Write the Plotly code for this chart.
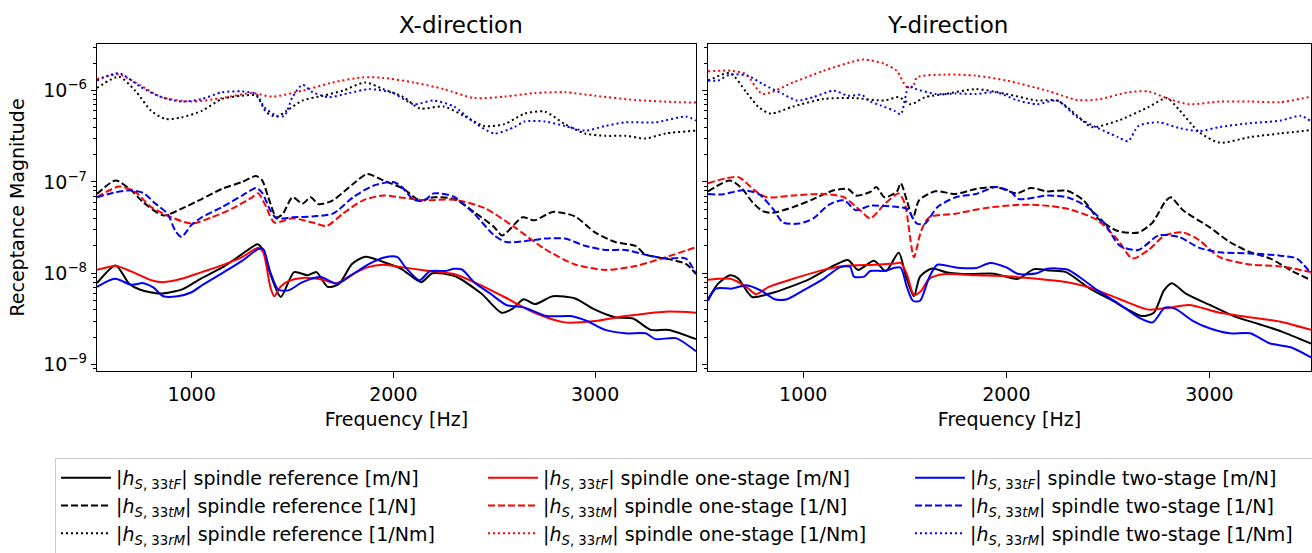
import plotly.graph_objects as go
from plotly.subplots import make_subplots

# ---------------- DATA ----------------
# X-direction
XF_REF_TF = [531, 624, 690, 746, 845, 956, 1044, 1155, 1243, 1327, 1354, 1387, 1442, 1508, 1575, 1619, 1674, 1729, 1796, 1862, 1950, 2039, 2138, 2193, 2304, 2436, 2536, 2591, 2646, 2702, 2790, 2901, 2989, 3099, 3188, 3276, 3365, 3500]
XV_REF_TF = [7.8e-9, 1.22e-8, 7.7e-9, 6.6e-9, 6.0e-9, 6.7e-9, 8.7e-9, 1.17e-8, 1.58e-8, 2.08e-8, 1.8e-8, 1.03e-8, 5.5e-9, 1.03e-8, 9.5e-9, 1.03e-8, 7.1e-9, 7.6e-9, 1.27e-8, 1.52e-8, 1.33e-8, 1.12e-8, 8.0e-9, 1.0e-8, 9.3e-9, 6.0e-9, 3.7e-9, 4.1e-9, 5.2e-9, 4.6e-9, 5.6e-9, 5.3e-9, 4.1e-9, 3.3e-9, 3.2e-9, 2.4e-9, 2.4e-9, 1.9e-9]

XF_ONE_TF = [531, 624, 700, 800, 860, 950, 1050, 1150, 1250, 1330, 1355, 1390, 1410, 1440, 1480, 1550, 1650, 1720, 1800, 1870, 1950, 2050, 2150, 2300, 2400, 2550, 2700, 2850, 3000, 3150, 3350, 3500]
XV_ONE_TF = [1.09e-8, 1.2e-8, 1.05e-8, 8.4e-9, 8.0e-9, 8.7e-9, 1.03e-8, 1.22e-8, 1.5e-8, 1.9e-8, 1.7e-8, 7.1e-9, 5.6e-9, 7.1e-9, 8.2e-9, 8.9e-9, 8.5e-9, 7.8e-9, 9.8e-9, 1.16e-8, 1.24e-8, 1.16e-8, 1.08e-8, 9.8e-9, 8.0e-9, 5.5e-9, 3.7e-9, 2.9e-9, 3.0e-9, 3.4e-9, 3.8e-9, 3.7e-9]

XF_TWO_TF = [531, 620, 700, 760, 810, 860, 930, 1000, 1060, 1150, 1250, 1330, 1355, 1390, 1430, 1480, 1550, 1640, 1720, 1800, 1880, 1960, 2020, 2060, 2130, 2180, 2260, 2300, 2340, 2400, 2480, 2560, 2650, 2760, 2880, 2960, 3050, 3150, 3250, 3300, 3400, 3500]
XV_TWO_TF = [7.1e-9, 8.7e-9, 7.5e-9, 7.8e-9, 7.0e-9, 5.6e-9, 5.6e-9, 6.2e-9, 7.6e-9, 1.0e-8, 1.37e-8, 1.84e-8, 1.84e-8, 1.03e-8, 6.6e-9, 6.5e-9, 8.0e-9, 9.1e-9, 7.7e-9, 9.8e-9, 1.27e-8, 1.5e-8, 1.5e-8, 1.16e-8, 8.4e-9, 1.05e-8, 1.06e-8, 1.12e-8, 1.1e-8, 8.0e-9, 6.0e-9, 4.5e-9, 4.2e-9, 3.4e-9, 3.4e-9, 3.0e-9, 2.4e-9, 2.2e-9, 2.2e-9, 1.9e-9, 1.95e-9, 1.4e-9]

XF_REF_TM = [531, 624, 700, 760, 860, 950, 1050, 1150, 1250, 1320, 1350, 1380, 1420, 1450, 1500, 1550, 1590, 1630, 1700, 1800, 1870, 1950, 2050, 2130, 2200, 2300, 2400, 2500, 2540, 2640, 2700, 2790, 2900, 3000, 3100, 3200, 3250, 3350, 3450, 3500]
XV_REF_TM = [7.4e-8, 1.04e-7, 8.1e-8, 6.0e-8, 4.3e-8, 5.1e-8, 6.5e-8, 8.4e-8, 1.0e-7, 1.16e-7, 1.04e-7, 6.8e-8, 4.1e-8, 4.4e-8, 6.8e-8, 5.8e-8, 6.8e-8, 5.7e-8, 6.3e-8, 9.5e-8, 1.22e-7, 1.04e-7, 8.4e-8, 6.3e-8, 6.8e-8, 6.5e-8, 4.7e-8, 3.2e-8, 2.6e-8, 4.1e-8, 3.8e-8, 4.7e-8, 4.2e-8, 2.8e-8, 2.2e-8, 2.0e-8, 1.6e-8, 1.45e-8, 1.27e-8, 9.8e-9]

XF_ONE_TM = [531, 640, 720, 800, 900, 1000, 1100, 1200, 1300, 1330, 1370, 1410, 1500, 1600, 1670, 1750, 1850, 1950, 2050, 2150, 2300, 2450, 2600, 2750, 2900, 3050, 3200, 3350, 3500]
XV_ONE_TM = [6.8e-8, 8.9e-8, 7.8e-8, 5.3e-8, 4.1e-8, 3.5e-8, 4.1e-8, 5.1e-8, 6.8e-8, 7.5e-8, 5.3e-8, 3.6e-8, 4.0e-8, 3.6e-8, 3.3e-8, 4.5e-8, 6.3e-8, 7.1e-8, 6.7e-8, 6.3e-8, 6.4e-8, 5.2e-8, 3.2e-8, 1.85e-8, 1.25e-8, 1.09e-8, 1.2e-8, 1.5e-8, 1.93e-8]

XF_TWO_TM = [531, 620, 700, 760, 820, 880, 920, 950, 1000, 1050, 1150, 1250, 1320, 1350, 1390, 1420, 1500, 1600, 1700, 1800, 1900, 2000, 2040, 2100, 2150, 2200, 2300, 2400, 2500, 2560, 2650, 2750, 2850, 2950, 3050, 3150, 3250, 3350, 3450, 3500]
XV_TWO_TM = [6.8e-8, 7.7e-8, 8.1e-8, 7.6e-8, 5.8e-8, 4.5e-8, 2.9e-8, 2.5e-8, 3.4e-8, 4.1e-8, 5.3e-8, 7.1e-8, 8.6e-8, 7.6e-8, 4.9e-8, 4.0e-8, 4.1e-8, 4.2e-8, 4.5e-8, 6.8e-8, 9.1e-8, 1.0e-7, 8.9e-8, 6.4e-8, 6.2e-8, 7.5e-8, 6.9e-8, 4.5e-8, 2.6e-8, 2.2e-8, 2.25e-8, 2.4e-8, 2.4e-8, 2.0e-8, 1.8e-8, 1.8e-8, 1.6e-8, 1.45e-8, 1.45e-8, 9.8e-9]

XF_REF_RM = [531, 640, 720, 800, 870, 950, 1050, 1150, 1250, 1320, 1370, 1420, 1470, 1550, 1650, 1750, 1860, 1950, 2050, 2130, 2250, 2350, 2450, 2550, 2650, 2750, 2850, 2950, 3050, 3150, 3250, 3350, 3500]
XV_REF_RM = [1.07e-6, 1.42e-6, 1.0e-6, 6.0e-7, 4.9e-7, 5.1e-7, 6.0e-7, 8.1e-7, 8.8e-7, 8.8e-7, 5.8e-7, 5.2e-7, 6.0e-7, 7.8e-7, 8.8e-7, 1.0e-6, 1.23e-6, 1.04e-6, 8.5e-7, 6.4e-7, 6.7e-7, 5.3e-7, 4.1e-7, 4.3e-7, 5.6e-7, 5.9e-7, 4.3e-7, 3.4e-7, 3.2e-7, 3.2e-7, 3.0e-7, 3.4e-7, 3.65e-7]

XF_ONE_RM = [531, 640, 750, 850, 1000, 1150, 1300, 1400, 1550, 1700, 1850, 1950, 2100, 2250, 2400, 2550, 2700, 2850, 3000, 3200, 3400, 3500]
XV_ONE_RM = [1.34e-6, 1.5e-6, 1.13e-6, 8.5e-7, 7.6e-7, 8.3e-7, 9.4e-7, 8.6e-7, 1.0e-6, 1.23e-6, 1.4e-6, 1.38e-6, 1.23e-6, 1.04e-6, 8.3e-7, 8.6e-7, 9.4e-7, 9.6e-7, 8.8e-7, 7.9e-7, 7.5e-7, 7.4e-7]

XF_TWO_RM = [531, 640, 750, 850, 950, 1050, 1150, 1250, 1320, 1360, 1420, 1460, 1500, 1550, 1600, 1680, 1780, 1880, 2000, 2100, 2200, 2300, 2400, 2500, 2600, 2650, 2750, 2850, 2950, 3050, 3150, 3300, 3450, 3500]
XV_TWO_RM = [1.29e-6, 1.55e-6, 1.09e-6, 8.5e-7, 7.6e-7, 8.1e-7, 9.6e-7, 9.8e-7, 9.2e-7, 6.6e-7, 5.3e-7, 5.3e-7, 8.5e-7, 1.16e-6, 9.6e-7, 8.5e-7, 9.4e-7, 1.04e-6, 9.4e-7, 7.1e-7, 7.8e-7, 6.7e-7, 4.5e-7, 3.4e-7, 4.0e-7, 4.6e-7, 4.6e-7, 4.1e-7, 3.65e-7, 4.1e-7, 4.5e-7, 4.5e-7, 5.2e-7, 4.7e-7]

# Y-direction
YF_REF_TF = [531, 581, 640, 679, 748, 837, 935, 1033, 1152, 1220, 1270, 1348, 1407, 1470, 1506, 1545, 1575, 1634, 1703, 1821, 1939, 2057, 2136, 2215, 2293, 2411, 2510, 2608, 2667, 2726, 2776, 2815, 2884, 3002, 3120, 3238, 3356, 3500]
YV_REF_TF = [5.2e-9, 7.7e-9, 9.5e-9, 8.8e-9, 5.5e-9, 6.0e-9, 7.1e-9, 8.7e-9, 1.22e-8, 1.4e-8, 1.09e-8, 1.37e-8, 1.06e-8, 1.68e-8, 9.2e-9, 5.6e-9, 9.2e-9, 1.13e-8, 1.03e-8, 9.8e-9, 9.9e-9, 8.7e-9, 1.11e-8, 1.07e-8, 1.03e-8, 6.8e-9, 5.2e-9, 3.9e-9, 3.4e-9, 3.7e-9, 6.5e-9, 7.8e-9, 6.0e-9, 4.5e-9, 3.4e-9, 2.8e-9, 2.3e-9, 1.7e-9]

YF_ONE_TF = [531, 640, 720, 768, 830, 950, 1100, 1200, 1350, 1450, 1480, 1510, 1545, 1580, 1620, 1700, 1850, 2000, 2150, 2300, 2400, 2550, 2700, 2800, 2900, 3050, 3200, 3350, 3500]
YV_ONE_TF = [8.5e-9, 8.7e-9, 7.1e-9, 5.9e-9, 7.1e-9, 8.7e-9, 1.09e-8, 1.2e-8, 1.24e-8, 1.28e-8, 1.3e-8, 9.8e-9, 5.8e-9, 6.4e-9, 8.7e-9, 9.8e-9, 9.5e-9, 9.3e-9, 8.7e-9, 8.0e-9, 7.1e-9, 5.3e-9, 4.0e-9, 4.2e-9, 4.5e-9, 3.7e-9, 3.3e-9, 2.95e-9, 2.4e-9]

YF_TWO_TF = [531, 570, 650, 720, 790, 860, 920, 1000, 1100, 1180, 1230, 1250, 1300, 1330, 1400, 1450, 1480, 1510, 1540, 1575, 1620, 1660, 1750, 1850, 1920, 2000, 2060, 2150, 2200, 2300, 2360, 2450, 2550, 2650, 2720, 2780, 2830, 2920, 3000, 3100, 3200, 3300, 3400, 3500]
YV_TWO_TF = [5.0e-9, 6.8e-9, 6.8e-9, 7.4e-9, 6.5e-9, 5.2e-9, 5.2e-9, 6.5e-9, 8.7e-9, 1.16e-8, 1.18e-8, 9.2e-9, 9.2e-9, 1.06e-8, 1.06e-8, 1.15e-8, 1.15e-8, 7.1e-9, 5.0e-9, 5.0e-9, 9.0e-9, 1.24e-8, 1.16e-8, 1.14e-8, 1.3e-8, 1.16e-8, 9.8e-9, 1.0e-8, 1.12e-8, 1.1e-8, 9.1e-9, 6.5e-9, 4.7e-9, 3.3e-9, 2.9e-9, 4.2e-9, 4.1e-9, 3.0e-9, 2.5e-9, 2.2e-9, 2.2e-9, 1.7e-9, 1.55e-9, 1.2e-9]

YF_REF_TM = [531, 640, 700, 750, 800, 850, 950, 1050, 1150, 1220, 1260, 1330, 1360, 1400, 1460, 1480, 1510, 1540, 1570, 1650, 1750, 1850, 1950, 2050, 2120, 2200, 2300, 2380, 2450, 2550, 2650, 2720, 2780, 2810, 2870, 3000, 3100, 3200, 3300, 3400, 3500]
YV_REF_TM = [7.9e-8, 1.04e-7, 8.4e-8, 6.0e-8, 4.8e-8, 4.6e-8, 5.3e-8, 6.5e-8, 8.1e-8, 8.4e-8, 7.1e-8, 7.8e-8, 8.8e-8, 6.8e-8, 7.8e-8, 9.7e-8, 6.3e-8, 4.0e-8, 6.3e-8, 7.9e-8, 7.4e-8, 8.4e-8, 8.8e-8, 7.5e-8, 8.6e-8, 7.9e-8, 8.0e-8, 6.3e-8, 4.0e-8, 2.9e-8, 2.8e-8, 3.6e-8, 6.0e-8, 6.8e-8, 4.9e-8, 3.2e-8, 2.2e-8, 1.7e-8, 1.45e-8, 1.08e-8, 8.4e-9]

YF_ONE_TM = [531, 680, 760, 820, 950, 1100, 1200, 1280, 1330, 1400, 1470, 1500, 1545, 1580, 1620, 1750, 1900, 2050, 2150, 2300, 2450, 2550, 2620, 2700, 2780, 2870, 2950, 3050, 3200, 3350, 3500]
YV_ONE_TM = [9.7e-8, 1.13e-7, 8.1e-8, 6.8e-8, 7.1e-8, 7.4e-8, 6.8e-8, 4.9e-8, 4.0e-8, 5.7e-8, 7.5e-8, 5.8e-8, 1.5e-8, 2.9e-8, 4.1e-8, 4.5e-8, 5.2e-8, 5.6e-8, 5.6e-8, 5.1e-8, 3.8e-8, 2.3e-8, 1.45e-8, 1.8e-8, 2.6e-8, 2.8e-8, 2.3e-8, 1.5e-8, 1.25e-8, 1.19e-8, 1.03e-8]

YF_TWO_TM = [531, 600, 700, 780, 850, 900, 980, 1050, 1130, 1200, 1260, 1330, 1470, 1510, 1560, 1600, 1660, 1750, 1850, 1950, 2020, 2060, 2200, 2300, 2400, 2480, 2560, 2650, 2750, 2850, 2950, 3050, 3200, 3350, 3430, 3500]
YV_TWO_TM = [7.4e-8, 7.3e-8, 8.1e-8, 7.4e-8, 5.1e-8, 3.6e-8, 3.5e-8, 4.0e-8, 5.7e-8, 6.3e-8, 4.9e-8, 5.5e-8, 5.3e-8, 5.1e-8, 3.5e-8, 3.5e-8, 5.3e-8, 6.8e-8, 7.4e-8, 8.8e-8, 7.9e-8, 6.5e-8, 7.1e-8, 6.8e-8, 5.3e-8, 3.6e-8, 2.0e-8, 1.8e-8, 2.6e-8, 2.5e-8, 1.9e-8, 1.7e-8, 1.65e-8, 1.56e-8, 1.45e-8, 1.0e-8]

YF_REF_RM = [531, 640, 720, 780, 840, 950, 1100, 1250, 1400, 1470, 1530, 1600, 1700, 1850, 2000, 2150, 2250, 2350, 2420, 2550, 2700, 2790, 2850, 2950, 3050, 3200, 3350, 3500]
YV_REF_RM = [1.29e-6, 1.55e-6, 9.6e-7, 6.6e-7, 5.6e-7, 6.7e-7, 8.1e-7, 8.3e-7, 7.8e-7, 8.5e-7, 7.1e-7, 8.5e-7, 9.2e-7, 1.04e-6, 9.2e-7, 7.8e-7, 7.8e-7, 5.3e-7, 4.0e-7, 4.7e-7, 6.6e-7, 8.3e-7, 6.2e-7, 3.5e-7, 2.7e-7, 3.1e-7, 3.4e-7, 3.7e-7]

YF_ONE_RM = [531, 650, 720, 800, 950, 1100, 1250, 1300, 1400, 1460, 1510, 1540, 1560, 1700, 1850, 2000, 2200, 2350, 2450, 2600, 2700, 2800, 2900, 3050, 3200, 3350, 3500]
YV_ONE_RM = [1.63e-6, 1.65e-6, 1.5e-6, 9.2e-7, 1.23e-6, 1.65e-6, 2.1e-6, 2.2e-6, 1.96e-6, 1.65e-6, 1.09e-6, 1.1e-6, 1.4e-6, 1.5e-6, 1.46e-6, 1.29e-6, 1.0e-6, 7.9e-7, 8.0e-7, 9.6e-7, 9.8e-7, 8.1e-7, 7.1e-7, 7.6e-7, 7.6e-7, 7.5e-7, 8.6e-7]

YF_TWO_RM = [531, 580, 640, 730, 800, 900, 970, 1050, 1150, 1220, 1290, 1320, 1380, 1450, 1480, 1520, 1550, 1650, 1750, 1850, 1950, 2050, 2150, 2250, 2350, 2450, 2550, 2600, 2650, 2750, 2850, 2950, 3050, 3200, 3350, 3450, 3500]
YV_TWO_RM = [1.29e-6, 1.29e-6, 1.5e-6, 1.45e-6, 1.18e-6, 9.2e-7, 7.8e-7, 8.5e-7, 1.0e-6, 8.8e-7, 9.0e-7, 7.8e-7, 6.9e-7, 6.0e-7, 5.5e-7, 1.13e-6, 1.05e-6, 9.2e-7, 9.3e-7, 9.2e-7, 9.6e-7, 7.9e-7, 7.1e-7, 7.8e-7, 5.1e-7, 3.9e-7, 3.1e-7, 2.8e-7, 4.1e-7, 4.5e-7, 3.9e-7, 3.6e-7, 4.0e-7, 4.4e-7, 4.7e-7, 5.3e-7, 4.6e-7]

SUBPLOT_TITLES = ["X-direction", "Y-direction"]
X_TICKS = [1000, 2000, 3000]
Y_TICK_EXP = [-9, -8, -7, -6]

VARIANTS = ["reference", "one-stage", "two-stage"]
COLORS = {"reference": "black", "one-stage": "red", "two-stage": "blue"}
QUANTS = [("tF", "m/N", "solid"), ("tM", "1/N", "7px,3px"), ("rM", "1/Nm", "2px,3px")]

DATA_X = {
    ("reference", "tF"): (XF_REF_TF, XV_REF_TF), ("reference", "tM"): (XF_REF_TM, XV_REF_TM), ("reference", "rM"): (XF_REF_RM, XV_REF_RM),
    ("one-stage", "tF"): (XF_ONE_TF, XV_ONE_TF), ("one-stage", "tM"): (XF_ONE_TM, XV_ONE_TM), ("one-stage", "rM"): (XF_ONE_RM, XV_ONE_RM),
    ("two-stage", "tF"): (XF_TWO_TF, XV_TWO_TF), ("two-stage", "tM"): (XF_TWO_TM, XV_TWO_TM), ("two-stage", "rM"): (XF_TWO_RM, XV_TWO_RM),
}
DATA_Y = {
    ("reference", "tF"): (YF_REF_TF, YV_REF_TF), ("reference", "tM"): (YF_REF_TM, YV_REF_TM), ("reference", "rM"): (YF_REF_RM, YV_REF_RM),
    ("one-stage", "tF"): (YF_ONE_TF, YV_ONE_TF), ("one-stage", "tM"): (YF_ONE_TM, YV_ONE_TM), ("one-stage", "rM"): (YF_ONE_RM, YV_ONE_RM),
    ("two-stage", "tF"): (YF_TWO_TF, YV_TWO_TF), ("two-stage", "tM"): (YF_TWO_TM, YV_TWO_TM), ("two-stage", "rM"): (YF_TWO_RM, YV_TWO_RM),
}

FONT = "DejaVu Sans"
fig = make_subplots(rows=1, cols=2, shared_yaxes=False, horizontal_spacing=0.0)

for vi, var in enumerate(VARIANTS):
    for qi, (q, unit, dash) in enumerate(QUANTS):
        name = f"|<i>h</i><sub><i>S</i>, 33<i>{q}</i></sub>| spindle {var} [{unit}]"
        rank = qi * 3 + vi + 1
        for col, data in ((1, DATA_X), (2, DATA_Y)):
            xs, ys = data[(var, q)]
            fig.add_trace(go.Scatter(
                x=xs, y=ys, mode="lines", name=name,
                line=dict(color=COLORS[var], width=2, dash=dash, shape="spline", smoothing=0.7),
                showlegend=(col == 1), legendrank=rank, hoverinfo="skip",
            ), row=1, col=col)

W, H = 1312, 553
ML, MR, MT, MB = 97, 1, 44, 182
PW = W - ML - MR
PH = H - MT - MB
dom1 = [0, (696 - ML) / PW]
dom2 = [(708 - ML) / PW, 1]

minor_vals = [m * 10 ** e for e in range(-10, -5) for m in range(2, 10)]
yt_vals = [10 ** e for e in Y_TICK_EXP]
yt_text = [f"10<sup>\u2212{-e}</sup>" for e in Y_TICK_EXP]

axis_common = dict(showline=True, linecolor="black", linewidth=1.3, mirror=True,
                   showgrid=False, zeroline=False, ticks="outside", tickcolor="black",
                   tickwidth=1.2, automargin=False,
                   tickfont=dict(family=FONT, size=19, color="black"))

for i, dom in ((1, dom1), (2, dom2)):
    fig.update_xaxes(domain=dom, range=[531, 3500], tickvals=X_TICKS, ticklen=6,
                     title=dict(text="Frequency [Hz]", font=dict(family=FONT, size=19, color="black"), standoff=8),
                     **axis_common, row=1, col=i)
    fig.update_yaxes(type="log", range=[-9.07, -5.489], tickvals=yt_vals, ticktext=yt_text,
                     ticklen=5, showticklabels=(i == 1),
                     minor=dict(tickvals=minor_vals, ticks="outside", ticklen=3, tickcolor="black", tickwidth=1),
                     **axis_common, row=1, col=i)

fig.update_yaxes(title=dict(text="Receptance Magnitude", font=dict(family=FONT, size=19, color="black"), standoff=13), row=1, col=1)

for t, dom in zip(SUBPLOT_TITLES, (dom1, dom2)):
    fig.add_annotation(text=t, x=(dom[0] + dom[1]) / 2, xref="paper", y=1, yref="paper",
                       yanchor="bottom", yshift=4, showarrow=False,
                       font=dict(family=FONT, size=23, color="black"))

fig.update_layout(
    width=W, height=H, margin=dict(l=ML, r=MR, t=MT, b=MB, autoexpand=False),
    paper_bgcolor="white", plot_bgcolor="white",
    font=dict(family=FONT, size=19, color="black"),
    legend=dict(orientation="h", x=(55 - ML) / PW, xanchor="left",
                y=(371 - 458) / PH, yanchor="top",
                entrywidth=362, entrywidthmode="pixels", itemwidth=50,
                bgcolor="white", bordercolor="#cccccc", borderwidth=1,
                font=dict(family=FONT, size=19, color="black"), traceorder="normal"),
)

fig.write_html("out.html")
